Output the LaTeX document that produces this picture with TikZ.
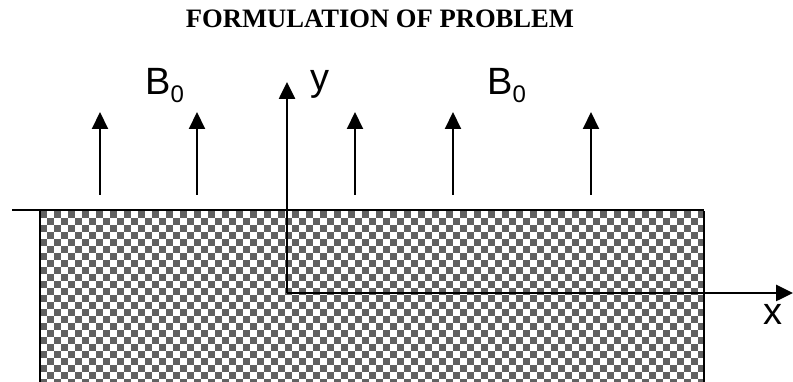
\documentclass[tikz,border=0pt]{standalone}
\usepackage{fontspec}
\setmainfont{Liberation Serif}
\setsansfont{Liberation Sans}
\usepackage{tikz}
\usetikzlibrary{arrows.meta}

\definecolor{checkgray}{gray}{0.38}

\begin{document}
\begin{tikzpicture}[x=1pt,y=1pt,
  field/.style={line width=2pt,-{Triangle[width=16pt,length=17pt]}},
  axis/.style={line width=2.6pt,-{Triangle[width=16pt,length=17pt]}},
  lbl/.style={font=\sffamily\fontsize{38}{38}\selectfont,inner sep=0pt,anchor=base west}]
\useasboundingbox (0,0) rectangle (793,382);
% title
\node[font=\bfseries\fontsize{26.6}{30}\selectfont,anchor=base] (title) at (380,354) {FORMULATION OF PROBLEM};
% the medium, 7pt checks
\begin{scope}
\clip (40,-20) rectangle (704,171);
\foreach \i in {0,...,95}{
  \pgfmathtruncatemacro{\s}{mod(\i,2)}
  \foreach \j in {0,...,13}
    \fill[checkgray] (40+7*\i,164-14*\j-7*\s) rectangle ++(7,7);
}
\end{scope}
\draw[line width=1.5pt] (40,-20)--(40,171);
\draw[line width=1.5pt] (704,-20)--(704,171);
\draw[line width=2pt] (12,172)--(704,172);
% the field B0
\foreach \x in {100,197,355,453,591}
  \draw[field] (\x,187)--(\x,270);
\node[lbl] (bleft) at (145,287) {B\raisebox{-8pt}{\fontsize{24}{24}\selectfont 0}};
\node[lbl] (bright) at (487,287) {B\raisebox{-8pt}{\fontsize{24}{24}\selectfont 0}};
% axes
\coordinate (O) at (287,89);
\coordinate (ytip) at (287,300);
\coordinate (xtip) at (793,89);
\draw[axis] (O)--(ytip);
\draw[axis] (O)--(xtip);
\node[lbl] (ylab) at (310,291) {y};
\node[lbl] (xlab) at (763,57) {x};
\end{tikzpicture}
\end{document}
